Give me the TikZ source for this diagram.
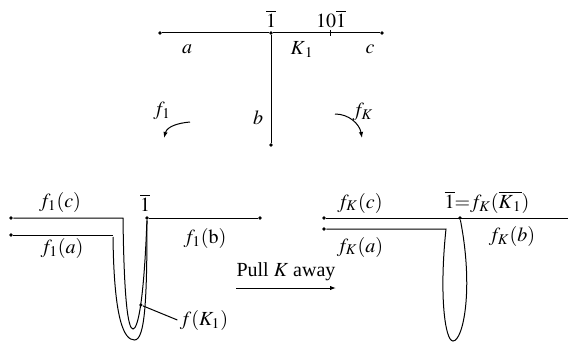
\documentclass[tikz,border=0pt]{standalone}
\usepackage{amsmath}
\usepackage{mathptmx}
\usepackage{fontspec}
\setmainfont{Liberation Serif}
\usepackage{tikz}
\usetikzlibrary{positioning, arrows.meta}

\begin{document}
\begin{tikzpicture}[x=0.5pt,y=-0.5pt,line width=0.5pt,
        dotpt/.style={circle, fill, inner sep=0pt, minimum size=1.8pt},
        lbl/.style={inner sep=1pt},
        tip/.style={-{Latex[length=3pt,width=2.2pt]}}]

    \useasboundingbox (0,0) rectangle (568,342);

    % Tree with branches a, b, c
    \node[dotpt] (A) at (160,33) {};
    \node[dotpt] (One) at (271,33) {};
    \node[dotpt] (C) at (382,33) {};
    \node[dotpt] (B) at (271,145) {};
    \coordinate (T1) at (330,30);
    \coordinate (T2) at (330,36);

    \draw (A) -- (One) -- (C);
    \draw (One) -- (B);
    \draw (T1) -- (T2);

    % Labels of the tree
    \node[lbl] (oneT) at (271,19) {$\overline{1}$};
    \node[lbl] (tenT) at (331,19) {$10\overline{1}$};
    \node[lbl] (aT) at (187,49) {$a$};
    \node[lbl] (kT) at (302,50) {$K_{\,1}$};
    \node[lbl] (cT) at (370,49) {$c$};
    \node[lbl] (bT) at (258,118) {$b$};

    % Curved arrows for the two maps
    \coordinate (f1s) at (190,122);
    \coordinate (f1e) at (164,138);
    \coordinate (fks) at (335,114);
    \coordinate (fke) at (362,138);
    \draw[tip] (f1s) to[out=185, in=75] (f1e);
    \draw[tip] (fks) to[out=0, in=100] (fke);
    \node[lbl] (f1) at (162,111) {$f_1$};
    \node[lbl] (fK) at (363,112) {$f_K$};

    % Image under f_1
    \node[dotpt] (Lc) at (11,218) {};
    \node[dotpt] (La) at (11,235) {};
    \node[dotpt] (Lone) at (147,218) {};
    \node[dotpt] (Lb) at (260,218) {};
    \coordinate (LcEnd) at (123,218);
    \coordinate (LaEnd) at (113,235);
    \coordinate (LaDown) at (113,237);

    \draw (Lone) -- (Lb);
    \draw (La) -- (LaEnd);
    \draw (Lc) -- (LcEnd) .. controls (124,300) and (128,329) .. (133,329)
        .. controls (138,329) and (144,300) .. (Lone);
    \draw (LaDown) .. controls (114,320) and (124,340) .. (134.5,340)
        .. controls (145,340) and (147,300) .. (Lone);

    \node[dotpt] (FK) at (140.8,305) {};
    \node[lbl] (FKl) at (204,320) {$f(K_1)$};
    \draw (FK) -- (FKl.west);

    \node[lbl] (Lcl) at (60,202) {$f_1(c)$};
    \node[lbl] (Lonel) at (145,203) {$\overline{1}$};
    \node[lbl] (Lal) at (62,248) {$f_1(a)$};
    \node[lbl] (Lbl) at (205,238) {$f_1(\mathrm{b})$};

    % Pull K away
    \coordinate (Ps) at (236,288);
    \coordinate (Pe) at (336,288);
    \draw[tip] (Ps) -- (Pe);
    \node[lbl] (pull) at (286,272) {Pull $K$ away};

    % Image under f_K
    \node[dotpt] (Rc) at (324,218) {};
    \node[dotpt] (Ra) at (324,229) {};
    \node[dotpt] (Rone) at (460,218) {};
    \coordinate (REnd) at (568,218);
    \coordinate (RaEnd) at (446,229);

    \draw (Rc) -- (REnd);
    \draw (Ra) -- (RaEnd) .. controls (439,295) and (445,341) .. (453,341)
        .. controls (463,341) and (474,290) .. (Rone);

    \node[lbl] (Rcl) at (360,203) {$f_K(c)$};
    \node[lbl] (Ronel) at (487,202) {$\overline{1}{=}f_K(\overline{K_{\,1}})$};
    \node[lbl] (Ral) at (360,247) {$f_K(a)$};
    \node[lbl] (Rbl) at (512,237) {$f_K(b)$};

\end{tikzpicture}
\end{document}
